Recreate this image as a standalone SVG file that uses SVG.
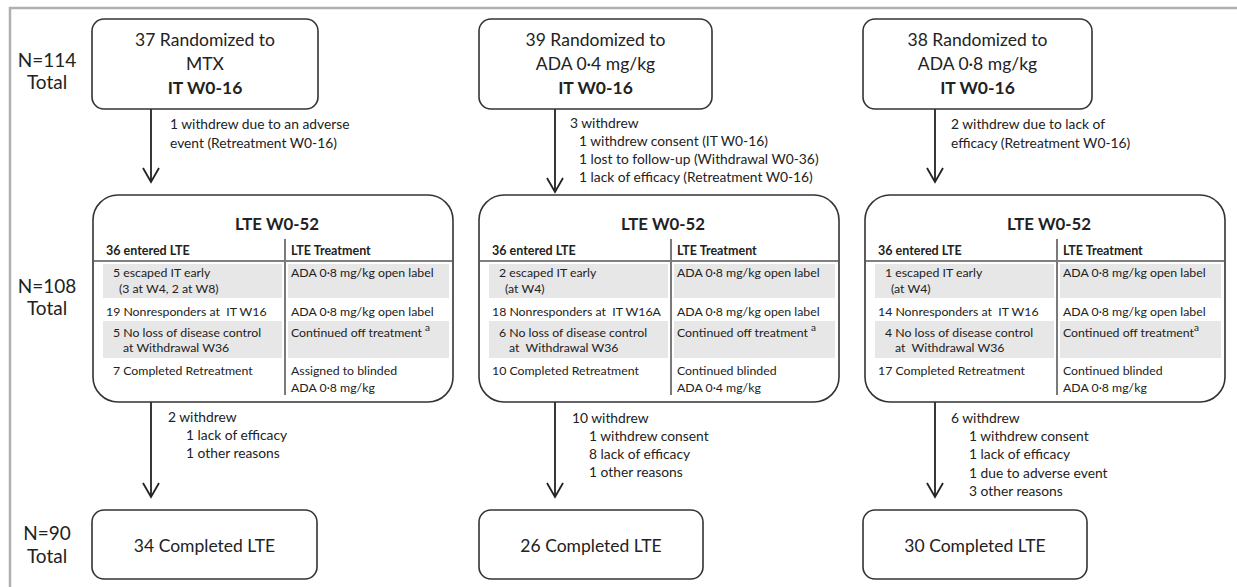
<svg xmlns="http://www.w3.org/2000/svg" width="1237" height="587" viewBox="0 0 1237 587">
<defs>
<style>
text{font-family:Lato,"Open Sans","Liberation Sans",sans-serif;fill:#222}
.frame{stroke:#b0b0b0;stroke-width:2.5;fill:none}
.box{fill:#fff;stroke:#333;stroke-width:1.6}
.big{font-size:17.5px}
.mid{text-anchor:middle}
.b{font-weight:bold}
.n{font-size:19px;text-anchor:middle}
.w{font-size:13.8px}
.t{font-size:12.3px}
.th{font-size:12.5px;font-weight:bold}
.title{font-size:16.8px;font-weight:bold;text-anchor:middle}
.sup{font-size:10px}
.gray{fill:#e7e7e7}
.div{stroke:#7a7a7a;stroke-width:2}
.rule{stroke:#555;stroke-width:1.5}
.conn{stroke:#222;stroke-width:1.8;fill:none;marker-end:url(#v)}
</style>
<marker id="v" viewBox="-16 -10 18 20" refX="0" refY="0" markerWidth="18" markerHeight="20" markerUnits="userSpaceOnUse" orient="auto">
<path d="M-14,-8 L0,0 L-14,8" fill="none" stroke="#222" stroke-width="1.8"/>
</marker>
</defs>
<path class="frame" d="M10,587 V8 H1237"/>

<g id="labels">
<text class="n" x="47" y="67">N=114</text>
<text class="n" x="47" y="89">Total</text>
<text class="n" x="47" y="293">N=108</text>
<text class="n" x="47" y="315">Total</text>
<text class="n" x="47" y="540">N=90</text>
<text class="n" x="47" y="563">Total</text>
</g>

<g id="connectors">
<path class="conn" d="M151,109 V182"/>
<path class="conn" d="M555,109 V192"/>
<path class="conn" d="M935,109 V182"/>
<path class="conn" d="M151,402 V497"/>
<path class="conn" d="M555,402 V497"/>
<path class="conn" d="M935,402 V497"/>
<g class="w">
<text x="170" y="129">1 withdrew due to an adverse</text>
<text x="170" y="148">event (Retreatment W0-16)</text>
<text x="570" y="128">3 withdrew</text>
<text x="579" y="146">1 withdrew consent (IT W0-16)</text>
<text x="579" y="164">1 lost to follow-up (Withdrawal W0-36)</text>
<text x="579" y="182">1 lack of efficacy (Retreatment W0-16)</text>
<text x="951" y="129">2 withdrew due to lack of</text>
<text x="951" y="148">efficacy (Retreatment W0-16)</text>
<text x="168" y="422">2 withdrew</text>
<text x="186" y="440">1 lack of efficacy</text>
<text x="186" y="458">1 other reasons</text>
<text x="572" y="423">10 withdrew</text>
<text x="589" y="441">1 withdrew consent</text>
<text x="589" y="459">8 lack of efficacy</text>
<text x="589" y="477">1 other reasons</text>
<text x="951" y="423">6 withdrew</text>
<text x="969" y="441">1 withdrew consent</text>
<text x="969" y="459">1 lack of efficacy</text>
<text x="969" y="478">1 due to adverse event</text>
<text x="969" y="496">3 other reasons</text>
</g>
</g>

<g id="top-mtx">
<rect class="box" x="92" y="19" width="226" height="90" rx="12"/>
<text class="big mid" x="205" y="46">37 Randomized to</text>
<text class="big mid" x="205" y="70">MTX</text>
<text class="big mid b" x="205" y="94">IT W0-16</text>
</g>
<g id="top-ada04">
<rect class="box" x="479" y="19" width="233" height="90" rx="12"/>
<text class="big mid" x="595.5" y="46">39 Randomized to</text>
<text class="big mid" x="595.5" y="70">ADA 0·4 mg/kg</text>
<text class="big mid b" x="595.5" y="94">IT W0-16</text>
</g>
<g id="top-ada08">
<rect class="box" x="863" y="19" width="229" height="90" rx="12"/>
<text class="big mid" x="977.5" y="46">38 Randomized to</text>
<text class="big mid" x="977.5" y="70">ADA 0·8 mg/kg</text>
<text class="big mid b" x="977.5" y="94">IT W0-16</text>
</g>

<g id="lte-mtx" transform="translate(93,195)">
<rect class="box" x="0" y="0" width="360" height="207" rx="25"/>
<rect class="gray" x="10" y="69" width="179" height="34"/>
<rect class="gray" x="195" y="69" width="161" height="34"/>
<rect class="gray" x="10" y="126" width="179" height="37"/>
<rect class="gray" x="195" y="126" width="161" height="37"/>
<line class="rule" x1="0" y1="66" x2="360" y2="66"/>
<line class="div" x1="192" y1="44" x2="192" y2="200"/>
<text class="title" x="184" y="35">LTE W0-52</text>
<text class="th" x="13" y="60">36 entered LTE</text>
<text class="th" x="198" y="60">LTE Treatment</text>
<g class="t">
<text x="20" y="82">5 escaped IT early</text>
<text x="26" y="98">(3 at W4, 2 at W8)</text>
<text x="198" y="82">ADA 0·8 mg/kg open label</text>
<text x="13" y="121" xml:space="preserve">19 Nonresponders at  IT W16</text>
<text x="198" y="121">ADA 0·8 mg/kg open label</text>
<text x="20" y="141.5">5 No loss of disease control</text>
<text x="30" y="157">at Withdrawal W36</text>
<text x="198" y="141.5">Continued off treatment <tspan class="sup" dy="-6">a</tspan></text>
<text x="20" y="180">7 Completed Retreatment</text>
<text x="198" y="180">Assigned to blinded</text>
<text x="198" y="197">ADA 0·8 mg/kg</text>
</g>
</g>

<g id="lte-ada04" transform="translate(479,195)">
<rect class="box" x="0" y="0" width="360" height="207" rx="25"/>
<rect class="gray" x="10" y="69" width="179" height="34"/>
<rect class="gray" x="195" y="69" width="161" height="34"/>
<rect class="gray" x="10" y="126" width="179" height="37"/>
<rect class="gray" x="195" y="126" width="161" height="37"/>
<line class="rule" x1="0" y1="66" x2="360" y2="66"/>
<line class="div" x1="192" y1="44" x2="192" y2="200"/>
<text class="title" x="184" y="35">LTE W0-52</text>
<text class="th" x="13" y="60">36 entered LTE</text>
<text class="th" x="198" y="60">LTE Treatment</text>
<g class="t">
<text x="20" y="82">2 escaped IT early</text>
<text x="26" y="98">(at W4)</text>
<text x="198" y="82">ADA 0·8 mg/kg open label</text>
<text x="13" y="121" xml:space="preserve">18 Nonresponders at  IT W16A</text>
<text x="198" y="121">ADA 0·8 mg/kg open label</text>
<text x="20" y="141.5">6 No loss of disease control</text>
<text x="30" y="157" xml:space="preserve">at  Withdrawal W36</text>
<text x="198" y="141.5">Continued off treatment <tspan class="sup" dy="-6">a</tspan></text>
<text x="13" y="180">10 Completed Retreatment</text>
<text x="198" y="180">Continued blinded</text>
<text x="198" y="197">ADA 0·4 mg/kg</text>
</g>
</g>

<g id="lte-ada08" transform="translate(865,195)">
<rect class="box" x="0" y="0" width="360" height="207" rx="25"/>
<rect class="gray" x="10" y="69" width="179" height="34"/>
<rect class="gray" x="195" y="69" width="161" height="34"/>
<rect class="gray" x="10" y="126" width="179" height="37"/>
<rect class="gray" x="195" y="126" width="161" height="37"/>
<line class="rule" x1="0" y1="66" x2="360" y2="66"/>
<line class="div" x1="192" y1="44" x2="192" y2="200"/>
<text class="title" x="184" y="35">LTE W0-52</text>
<text class="th" x="13" y="60">36 entered LTE</text>
<text class="th" x="198" y="60">LTE Treatment</text>
<g class="t">
<text x="20" y="82">1 escaped IT early</text>
<text x="26" y="98">(at W4)</text>
<text x="198" y="82">ADA 0·8 mg/kg open label</text>
<text x="13" y="121" xml:space="preserve">14 Nonresponders at  IT W16</text>
<text x="198" y="121">ADA 0·8 mg/kg open label</text>
<text x="20" y="141.5">4 No loss of disease control</text>
<text x="30" y="157" xml:space="preserve">at  Withdrawal W36</text>
<text x="198" y="141.5">Continued off treatment<tspan class="sup" dy="-6">a</tspan></text>
<text x="13" y="180">17 Completed Retreatment</text>
<text x="198" y="180">Continued blinded</text>
<text x="198" y="197">ADA 0·8 mg/kg</text>
</g>
</g>

<g id="end-mtx">
<rect class="box" x="92" y="510" width="225" height="69" rx="12"/>
<text class="big mid" x="204.5" y="552">34 Completed LTE</text>
</g>
<g id="end-ada04">
<rect class="box" x="479" y="510" width="224" height="69" rx="12"/>
<text class="big mid" x="591" y="552">26 Completed LTE</text>
</g>
<g id="end-ada08">
<rect class="box" x="863" y="510" width="224" height="69" rx="12"/>
<text class="big mid" x="975" y="552">30 Completed LTE</text>
</g>
</svg>
